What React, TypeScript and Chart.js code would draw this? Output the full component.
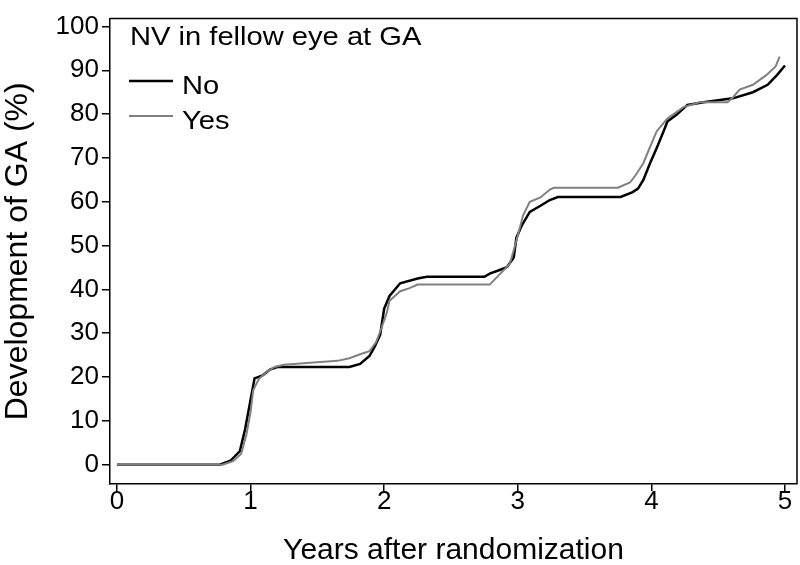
import React, { useEffect, useRef } from "react";
import { Chart, registerables } from "chart.js";

Chart.register(...registerables);

const xTicks = [0, 1, 2, 3, 4, 5];
const yTicks = [0, 10, 20, 30, 40, 50, 60, 70, 80, 90, 100];

const legendTitle = "NV in fellow eye at GA";
const seriesNames = ["No", "Yes"];

const tNo = [0, 0.77, 0.85, 0.92, 0.96, 0.995, 1.03, 1.09, 1.145, 1.2, 1.74, 1.82, 1.89, 1.93, 1.97, 2.0, 2.04, 2.12, 2.25, 2.32, 2.75, 2.79, 2.87, 2.92, 2.97, 2.99, 3.03, 3.09, 3.17, 3.24, 3.3, 3.77, 3.86, 3.9, 3.94, 3.99, 4.04, 4.09, 4.12, 4.19, 4.27, 4.39, 4.61, 4.76, 4.87, 4.94, 5.0];
const vNo = [0, 0, 0.9, 3.1, 8.2, 14, 19.7, 20.4, 21.7, 22.3, 22.3, 23, 24.8, 27, 29.6, 35.6, 38.5, 41.4, 42.5, 42.9, 42.9, 43.6, 44.5, 45.1, 47.3, 51.8, 54.6, 57.7, 59.1, 60.4, 61.1, 61.1, 62.2, 63, 65, 68.8, 72.3, 76, 78.3, 79.9, 82.1, 82.7, 83.6, 85, 86.7, 88.9, 91.1];

const tYes = [0, 0.79, 0.87, 0.93, 0.97, 1.0, 1.02, 1.06, 1.12, 1.18, 1.25, 1.42, 1.65, 1.74, 1.82, 1.89, 1.94, 1.98, 2.02, 2.04, 2.12, 2.19, 2.25, 2.79, 2.87, 2.94, 2.99, 3.04, 3.09, 3.17, 3.24, 3.27, 3.75, 3.84, 3.88, 3.94, 3.99, 4.04, 4.12, 4.24, 4.36, 4.57, 4.61, 4.66, 4.76, 4.86, 4.93, 4.96];
const vYes = [0, 0, 0.8, 2.5, 7, 12, 17, 19.5, 21.2, 22.3, 22.8, 23.2, 23.7, 24.3, 25.2, 25.9, 28, 31.2, 34.7, 37.4, 39.6, 40.3, 41.1, 41.1, 43.6, 45.8, 51.1, 56.9, 60, 61, 62.8, 63.2, 63.2, 64.4, 66, 68.8, 72.5, 76.1, 79, 81.6, 82.7, 82.7, 83.8, 85.6, 86.7, 88.9, 90.9, 93.1];

const FONT = "'Liberation Sans', Arial, sans-serif";

const boxAndLegend = {
  id: "boxAndLegend",
  afterDraw(chart: any) {
    const { ctx, chartArea } = chart;
    ctx.save();
    ctx.strokeStyle = "#000";
    ctx.lineWidth = 1.5;
    ctx.beginPath();
    ctx.moveTo(chartArea.left, chartArea.top);
    ctx.lineTo(chartArea.right, chartArea.top);
    ctx.lineTo(chartArea.right, chartArea.bottom);
    ctx.stroke();

    const stretch = 1.12;
    const drawText = (s: string, x: number, y: number) => {
      ctx.save();
      ctx.translate(x, y);
      ctx.scale(stretch, 1);
      ctx.fillText(s, 0, 0);
      ctx.restore();
    };
    ctx.fillStyle = "#000";
    ctx.font = `26px ${FONT}`;
    ctx.textBaseline = "alphabetic";
    ctx.textAlign = "left";
    drawText(legendTitle, 130, 45);
    const colors = ["#000000", "#808080"];
    const widths = [2.5, 2];
    const ys = [81, 116];
    seriesNames.forEach((n, i) => {
      ctx.strokeStyle = colors[i];
      ctx.lineWidth = widths[i];
      ctx.beginPath();
      ctx.moveTo(129, ys[i]);
      ctx.lineTo(173, ys[i]);
      ctx.stroke();
      ctx.fillStyle = "#000";
      drawText(n, 182, ys[i] + 13);
    });
    ctx.restore();
  },
};

export default function App() {
  const ref = useRef<HTMLCanvasElement>(null);
  useEffect(() => {
    if (!ref.current) return;
    const chart = new Chart(ref.current, {
      type: "line",
      data: {
        datasets: [
          {
            label: seriesNames[1],
            data: tYes.map((t, i) => ({ x: t, y: vYes[i] })),
            borderColor: "#808080",
            borderWidth: 2,
            pointRadius: 0,
            tension: 0,
            fill: false,
          },
          {
            label: seriesNames[0],
            data: tNo.map((t, i) => ({ x: t, y: vNo[i] })),
            borderColor: "#000000",
            borderWidth: 2.5,
            pointRadius: 0,
            tension: 0,
            fill: false,
          },
        ],
      },
      options: {
        animation: false,
        responsive: false,
        maintainAspectRatio: false,
        layout: { padding: { top: 4, right: 3, left: 0, bottom: 0 } },
        plugins: { legend: { display: false }, tooltip: { enabled: false } },
        scales: {
          x: {
            type: "linear",
            min: -0.052,
            max: 5.09,
            afterBuildTicks: (axis: any) => {
              axis.ticks = xTicks.map((v) => ({ value: v }));
            },
            afterFit: (scale: any) => {
              scale.height = 81;
            },
            grid: { drawOnChartArea: false, drawTicks: true, tickLength: 7, color: "#000", lineWidth: 1.5 },
            border: { display: true, color: "#000", width: 1.5 },
            ticks: { color: "#000", font: { family: FONT, size: 26 }, padding: -5, maxRotation: 0 },
            title: {
              display: true,
              text: "Years after randomization",
              color: "#000",
              font: { family: FONT, size: 30 },
              padding: { top: 0, bottom: -4 },
            },
          },
          y: {
            type: "linear",
            min: -4.4,
            max: 101.8,
            afterBuildTicks: (axis: any) => {
              axis.ticks = yTicks.map((v) => ({ value: v }));
            },
            afterFit: (scale: any) => {
              scale.width = 110;
            },
            grid: { drawOnChartArea: false, drawTicks: true, tickLength: 8, color: "#000", lineWidth: 1.5 },
            border: { display: true, color: "#000", width: 1.5 },
            ticks: { color: "#000", font: { family: FONT, size: 26 }, padding: 3 },
            title: {
              display: true,
              text: "Development of GA (%)",
              color: "#000",
              font: { family: FONT, size: 32 },
              padding: { top: -1, bottom: 0 },
            },
          },
        },
      },
      plugins: [boxAndLegend],
    });
    return () => chart.destroy();
  }, []);
  return (
    <div style={{ position: "absolute", left: 0, top: 0, width: 800, height: 565, background: "#fff" }}>
      <canvas ref={ref} width={800} height={565} />
    </div>
  );
}
